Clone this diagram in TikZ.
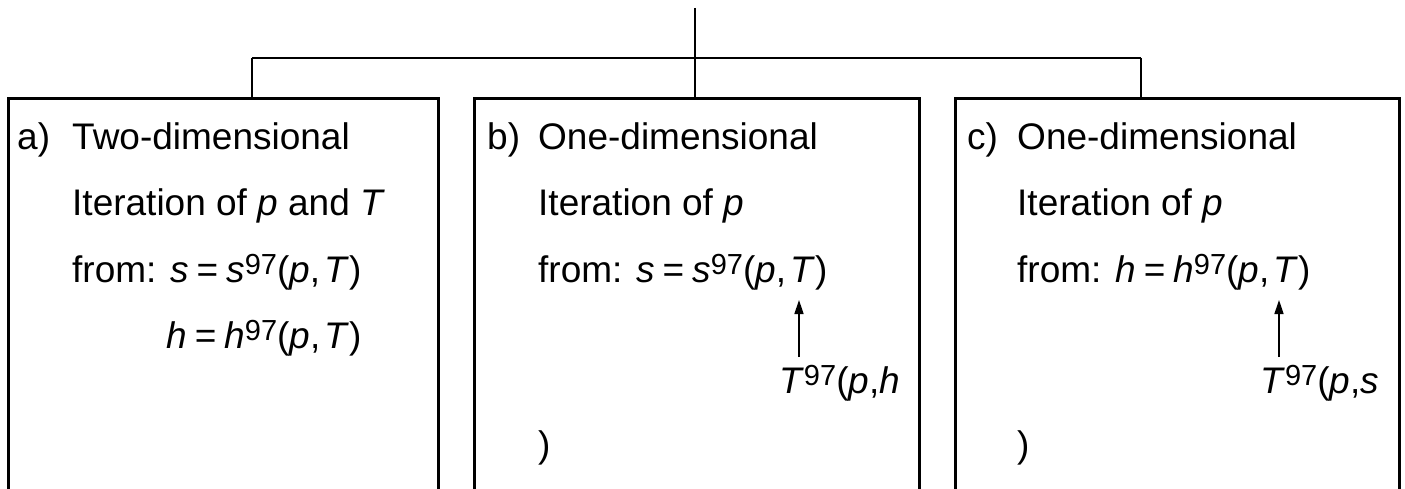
\documentclass[tikz,border=0pt]{standalone}
\usepackage{fontspec}
\setmainfont{Liberation Sans}
\usetikzlibrary{arrows.meta}
\newcommand\spx[1]{\raisebox{8pt}{\fontsize{29}{29}\selectfont #1}}
\newcommand\eqx{\kern8pt=\kern8pt}
\newcommand\cmx{,\kern4pt}
\tikzset{
  panel/.style={draw, line width=3pt, rectangle, inner sep=0pt},
  thinline/.style={line width=1.5pt},
  arr/.style={line width=1.5pt, -{Triangle[length=14pt,width=9pt]}},
  txt/.style={anchor=base west, inner sep=0pt, font=\fontsize{37}{44}\selectfont},
}
\begin{document}
\begin{tikzpicture}[x=1pt,y=-1pt]
\useasboundingbox (0,0) rectangle (1405,489);
\clip (0,0) rectangle (1405,489);
\fill[white] (0,0) rectangle (1405,489);
% panels
\node[panel, minimum width=430pt, minimum height=431pt] (abox) at (223,314) {};
\node[panel, minimum width=445pt, minimum height=431pt] (bbox) at (696.5,314) {};
\node[panel, minimum width=444pt, minimum height=431pt] (cbox) at (1177,314) {};
% tree connectors
\coordinate (top) at (695,8);
\coordinate (ja) at (252,58);
\coordinate (jc) at (1141,58);
\draw[thinline] (top) -- (top |- bbox.north);
\draw[thinline] (ja) -- (jc);
\draw[thinline] (ja) -- (ja |- abox.north);
\draw[thinline] (jc) -- (jc |- cbox.north);
% panel a
\node[txt] (a0) at (17,150) {a)};
\node[txt] (a1) at (72,150) {Two-dimensional};
\node[txt] (a2) at (72,215) {Iteration of \textit{p} and \textit{T}};
\node[txt] (a3) at (72,282) {from: \textit{s}\eqx\textit{s}\spx{97}(\textit{p}\cmx\textit{T})};
\node[txt] (a4) at (166,348) {\textit{h}\eqx\textit{h}\spx{97}(\textit{p}\cmx\textit{T})};
% panel b
\node[txt] (b0) at (487,150) {b)};
\node[txt] (b1) at (538,150) {One-dimensional};
\node[txt] (b2) at (538,215) {Iteration of \textit{p}};
\node[txt] (b3) at (538,282) {from: \textit{s}\eqx\textit{s}\spx{97}(\textit{p}\cmx\textit{T})};
\node[txt] (b4) at (779,393) {\textit{T}\spx{97}(\textit{p},\textit{h}};
\node[txt] (b5) at (538,457) {)};
\coordinate (bs) at (799,357);
\coordinate (be) at (799,300);
\draw[arr] (bs) -- (be);
% panel c
\node[txt] (c0) at (967,150) {c)};
\node[txt] (c1) at (1017,150) {One-dimensional};
\node[txt] (c2) at (1017,215) {Iteration of \textit{p}};
\node[txt] (c3) at (1017,282) {from: \textit{h}\eqx\textit{h}\spx{97}(\textit{p}\cmx\textit{T})};
\node[txt] (c4) at (1260,393) {\textit{T}\spx{97}(\textit{p},\textit{s}};
\node[txt] (c5) at (1017,457) {)};
\coordinate (cs) at (1279,357);
\coordinate (ce) at (1279,300);
\draw[arr] (cs) -- (ce);
\end{tikzpicture}
\end{document}
